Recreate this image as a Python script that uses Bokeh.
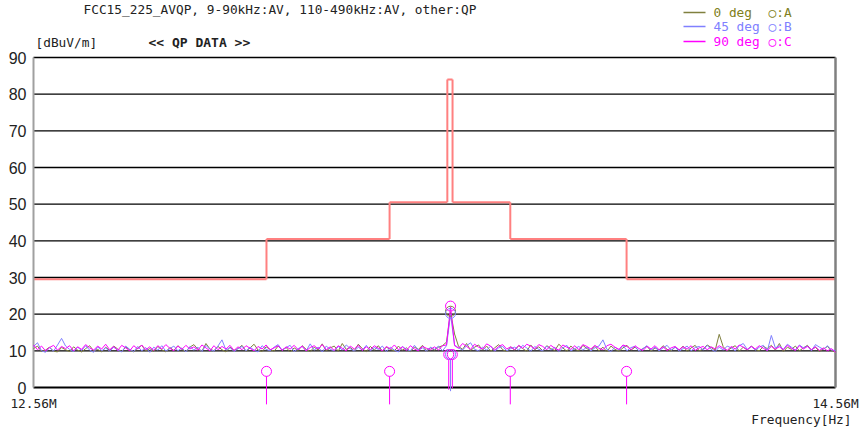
from bokeh.plotting import figure
from bokeh.models import Range1d, Label
from bokeh.embed import file_html
from bokeh.resources import INLINE

# ---------------- data ----------------
F_START, F_STOP = 12.56, 14.56
FREQ_STEP = 0.01

trace_a = [  # 0 deg (olive)
    10.6, 11.3, 9.8, 10.2, 11.0, 9.9, 9.7, 10.9, 10.3, 9.8, 11.1, 10.2, 9.7, 10.6, 11.4, 10.0, 10.4, 9.7, 11.0, 10.1,
    11.3, 10.5, 9.8, 11.0, 10.3, 9.7, 10.8, 11.5, 10.0, 10.6, 9.9, 11.2, 10.3, 9.7, 10.9, 10.1, 11.4, 10.4, 9.8, 11.0,
    11.7, 10.4, 9.9, 12.0, 10.5, 10.0, 11.2, 10.3, 9.7, 11.0, 10.1, 10.6, 11.5, 9.9, 10.8, 11.8, 10.2, 9.8, 11.1, 10.4,
    9.9, 11.3, 10.2, 10.9, 9.7, 10.8, 10.1, 11.4, 10.4, 9.8, 11.0, 10.2, 11.9, 10.0, 10.8, 11.3, 9.9, 12.0, 10.4, 10.9,
    10.0, 11.8, 10.6, 9.8, 11.2, 10.2, 11.4, 9.9, 11.0, 10.4, 10.0, 11.3, 10.2, 10.8, 9.8, 11.0, 10.4, 11.5, 10.1, 10.8,
    10.2, 11.0, 11.4, 12.4, 20.5, 14.6, 11.2, 10.4, 12.0, 10.1, 11.0, 11.6, 10.2, 11.3, 9.9, 10.8, 11.7, 10.3, 9.8, 11.1,
    10.2, 11.4, 10.6, 9.9, 11.6, 10.3, 11.1, 10.0, 11.4, 10.6, 10.1, 11.8, 10.8, 9.9, 11.3, 10.4, 10.0, 11.5, 10.6, 10.1,
    11.2, 10.0, 11.0, 9.8, 11.3, 10.4, 9.9, 10.8, 11.5, 10.2, 11.0, 10.0, 10.6, 11.3, 9.9, 10.8, 10.2, 11.4, 10.4, 10.0,
    11.0, 10.2, 11.3, 9.9, 10.8, 11.5, 10.0, 10.5, 11.6, 10.9, 10.2, 14.5, 11.1, 10.0, 10.8, 11.4, 9.9, 11.0, 10.2, 11.3,
    10.4, 10.0, 11.2, 10.6, 11.5, 10.2, 12.0, 9.8, 11.0, 10.4, 11.3, 10.0, 10.8, 11.5, 10.2, 11.0, 9.8, 10.5, 11.2, 10.0,
    9.9,
]
trace_b = [  # 45 deg (blue)
    11.2, 12.2, 10.0, 9.6, 10.9, 9.9, 11.6, 13.4, 11.3, 10.4, 9.8, 11.0, 10.1, 11.4, 10.2, 9.6, 11.1, 10.0, 10.8, 9.9,
    11.0, 10.2, 9.7, 11.3, 10.4, 9.8, 11.2, 10.0, 10.9, 9.6, 11.0, 10.2, 11.4, 9.9, 10.6, 11.3, 10.0, 10.8, 9.7, 11.2,
    10.2, 11.0, 9.8, 11.5, 10.4, 9.9, 11.3, 13.0, 10.2, 10.9, 9.8, 10.6, 11.2, 10.0, 11.0, 10.2, 9.7, 11.4, 10.4, 10.0,
    11.0, 11.7, 10.2, 10.9, 11.5, 9.8, 10.6, 11.2, 10.0, 11.9, 10.2, 11.0, 9.7, 11.3, 10.4, 10.0, 11.2, 10.2, 11.6, 10.6,
    9.9, 11.0, 10.2, 11.5, 10.0, 10.9, 10.4, 11.3, 9.8, 11.0, 10.2, 9.7, 11.2, 10.4, 10.0, 11.5, 10.2, 10.8, 9.9, 11.0,
    10.4, 11.3, 10.0, 11.4, 20.0, 11.6, 10.8, 10.2, 11.4, 12.2, 10.4, 10.0, 11.0, 10.2, 11.3, 9.9, 10.8, 11.2, 10.0, 10.6,
    11.0, 10.2, 11.5, 10.8, 9.9, 11.2, 10.4, 10.0, 11.3, 10.2, 11.0, 9.8, 10.8, 11.5, 10.0, 10.6, 11.2, 10.2, 11.0, 10.0,
    10.8, 11.3, 13.0, 10.4, 9.8, 11.0, 10.2, 11.5, 10.0, 10.9, 11.2, 9.9, 10.6, 11.4, 10.2, 11.0, 10.0, 10.8, 11.5, 10.2,
    11.0, 9.9, 10.6, 11.3, 10.0, 10.9, 11.2, 10.2, 11.5, 10.4, 9.8, 11.0, 10.2, 11.3, 10.8, 10.0, 11.4, 12.0, 10.4, 11.2,
    10.2, 11.0, 11.5, 10.0, 14.2, 10.8, 11.4, 10.4, 11.8, 11.0, 10.2, 11.6, 10.8, 11.3, 10.0, 11.7, 11.0, 10.4, 11.4, 10.2,
    10.1,
]
trace_c = [  # 90 deg (magenta)
    11.6, 10.3, 11.3, 10.0, 10.9, 11.5, 10.2, 11.2, 10.6, 11.4, 10.0, 11.1, 10.4, 11.7, 10.8, 10.2, 11.3, 10.5, 11.8, 10.3,
    11.2, 10.1, 11.5, 10.8, 10.0, 11.4, 10.5, 11.6, 10.3, 11.1, 10.1, 11.4, 10.5, 11.7, 10.7, 10.0, 11.3, 10.4, 11.5, 10.5,
    11.1, 10.2, 11.6, 10.8, 10.0, 11.4, 10.3, 11.2, 10.5, 11.5, 10.1, 11.1, 10.3, 11.4, 10.7, 10.0, 11.2, 10.5, 11.6, 10.3,
    10.8, 11.4, 10.1, 11.1, 10.5, 11.5, 10.3, 11.3, 10.0, 10.9, 11.4, 10.5, 11.7, 10.3, 11.1, 10.1, 11.4, 10.7, 10.0, 11.3,
    10.5, 11.5, 10.1, 11.1, 10.3, 11.4, 10.7, 10.0, 11.2, 10.5, 11.6, 10.3, 11.1, 10.1, 11.4, 10.5, 10.0, 11.2, 10.7, 10.3,
    11.1, 10.2, 11.4, 11.6, 22.0, 11.4, 10.7, 12.0, 11.2, 10.4, 11.8, 11.0, 10.5, 11.9, 11.3, 10.2, 11.2, 11.7, 10.5, 11.1,
    10.3, 11.5, 10.7, 11.8, 11.3, 10.5, 11.7, 11.2, 10.3, 11.5, 10.7, 10.2, 11.6, 11.0, 10.4, 11.4, 10.3, 11.7, 11.2, 10.5,
    11.5, 10.7, 10.3, 11.4, 11.8, 11.0, 10.4, 11.6, 11.2, 10.3, 11.4, 10.6, 10.1, 11.2, 10.5, 11.4, 10.3, 11.1, 10.1, 10.8,
    11.2, 10.3, 11.1, 10.5, 11.4, 10.1, 10.8, 11.2, 10.3, 11.1, 10.5, 11.4, 10.7, 10.1, 11.2, 10.5, 11.6, 11.0, 10.3, 11.2,
    10.5, 11.4, 10.7, 10.1, 11.2, 10.5, 11.1, 10.3, 11.5, 10.7, 10.1, 11.4, 10.5, 11.2, 10.3, 11.1, 10.1, 10.8, 10.0, 10.6,
    9.6,
]
freq = [round(F_START + i * FREQ_STEP, 4) for i in range(len(trace_a))]

# limit line (step edges in MHz, levels in dBuV/m)
limit_edges = [12.56, 13.141, 13.448, 13.592, 13.605, 13.749, 14.039, 14.56]
limit_levels = [29.5, 40.5, 50.5, 84.0, 50.5, 40.5, 29.5]

# boundary markers (C)
bmark_freq = [13.141, 13.448, 13.749, 14.039]
bmark_level = [4.4, 4.4, 4.4, 4.4]

# peak markers
peak_freq = [13.600, 13.600, 13.600]
peak_level = [20.8, 20.2, 22.2]          # A, B, C
low_freq = [13.5955, 13.600, 13.6045]
low_level = [9.0, 9.0, 9.0]              # C, B, C

y_ticks = [0, 10, 20, 30, 40, 50, 60, 70, 80, 90]
x_tick_labels = ["12.56M", "14.56M"]

COL_A = "#80803f"
COL_B = "#8080ff"
COL_C = "#ff00ff"
COL_LIM = "#ff8080"

# ---------------- figure ----------------
PX_X = 401.0       # px per MHz
PX_Y = 330.0 / 90  # px per dB
x_rng = Range1d(F_START - 33 / PX_X, F_START + 826 / PX_X)
y_rng = Range1d(-43 / PX_Y, 387 / PX_Y)

p = figure(width=859, height=430, x_range=x_rng, y_range=y_rng,
           output_backend="svg", toolbar_location=None,
           x_axis_location=None, y_axis_location=None,
           min_border_left=0, min_border_right=0, min_border_top=0, min_border_bottom=0)
p.outline_line_color = None
p.xgrid.visible = False
p.ygrid.visible = False
p.background_fill_color = "white"
p.border_fill_color = "white"

# grid lines
p.segment(x0=[F_START] * 9, x1=[F_STOP] * 9, y0=y_ticks[1:], y1=y_ticks[1:],
          line_color="#000000", line_width=1.3)

# limit line as horizontal + vertical segments
n = len(limit_levels)
p.segment(x0=limit_edges[:-1], x1=limit_edges[1:], y0=limit_levels, y1=limit_levels,
          line_color=COL_LIM, line_width=2)
p.segment(x0=limit_edges[1:-1], x1=limit_edges[1:-1], y0=limit_levels[:-1], y1=limit_levels[1:],
          line_color=COL_LIM, line_width=2)

# frame
p.segment(x0=[F_START], x1=[F_STOP], y0=[0], y1=[0], line_color="#000000", line_width=2)
p.segment(x0=[F_START], x1=[F_START], y0=[0], y1=[90], line_color="#a0a0a0", line_width=2)
p.segment(x0=[F_STOP], x1=[F_STOP], y0=[0], y1=[90], line_color="#808080", line_width=2.5)

# traces
p.line(freq, trace_a, line_color=COL_A, line_width=1)
p.line(freq, trace_b, line_color=COL_B, line_width=1)
p.line(freq, trace_c, line_color=COL_C, line_width=1)

# markers
R = 5 / PX_Y
p.segment(x0=bmark_freq, x1=bmark_freq, y0=[v - R for v in bmark_level],
          y1=[-4.6] * len(bmark_freq), line_color=COL_C, line_width=1)
p.scatter(bmark_freq, bmark_level, marker="circle", size=10, fill_color=None,
          line_color=COL_C, line_width=1)

low_cols = [COL_C, COL_B, COL_C]
p.segment(x0=low_freq, x1=low_freq, y0=[v - R for v in low_level],
          y1=[-0.6, -1.0, -0.2], line_color=low_cols, line_width=1)
p.scatter(low_freq, low_level, marker="circle", size=10, fill_color=None,
          line_color=low_cols, line_width=1)
p.scatter(peak_freq, peak_level, marker="circle", size=10, fill_color=None,
          line_color=[COL_A, COL_B, COL_C], line_width=1)


def px2f(px):
    return F_START + (px - 33) / PX_X


def py2v(py):
    return (387 - py) / PX_Y


MONO = "DejaVu Sans Mono"
MSZ = "12.8px"


def lab(text, x, y, size=MSZ, color="#222222", align="left", style="normal", font=MONO):
    p.add_layout(Label(x=x, y=y, text=text, text_font=font,
                       text_font_size=size, text_color=color, text_align=align,
                       text_baseline="middle", text_font_style=style))


# y tick labels
for t in y_ticks:
    lab(str(t), px2f(26), t, size="16px", font="Liberation Sans", align="right")
# x end labels
lab(x_tick_labels[0], F_START, py2v(403), align="center")
lab(x_tick_labels[1], F_STOP, py2v(403), align="center")
lab("Frequency[Hz]", px2f(851), py2v(419), align="right")

lab("FCC15_225_AVQP, 9-90kHz:AV, 110-490kHz:AV, other:QP", px2f(83), py2v(9))
lab("[dBuV/m]", px2f(35), py2v(42))
lab("<< QP DATA >>", px2f(148), py2v(42), size="13px", style="bold")

legend_rows = [("0 deg", "○:A", COL_A, "#808020", 12),
               ("45 deg", "○:B", COL_B, "#8080ff", 26),
               ("90 deg", "○:C", COL_C, "#ff00ff", 41)]
for name, mk, lcol, tcol, py in legend_rows:
    p.segment(x0=[px2f(683)], x1=[px2f(705)], y0=[py2v(py)], y1=[py2v(py)],
              line_color=lcol, line_width=1.3)
    lab(name, px2f(713), py2v(py), color=tcol)
    lab(mk, px2f(768), py2v(py), color=tcol)

open("out.html", "w").write(file_html(p, INLINE))
